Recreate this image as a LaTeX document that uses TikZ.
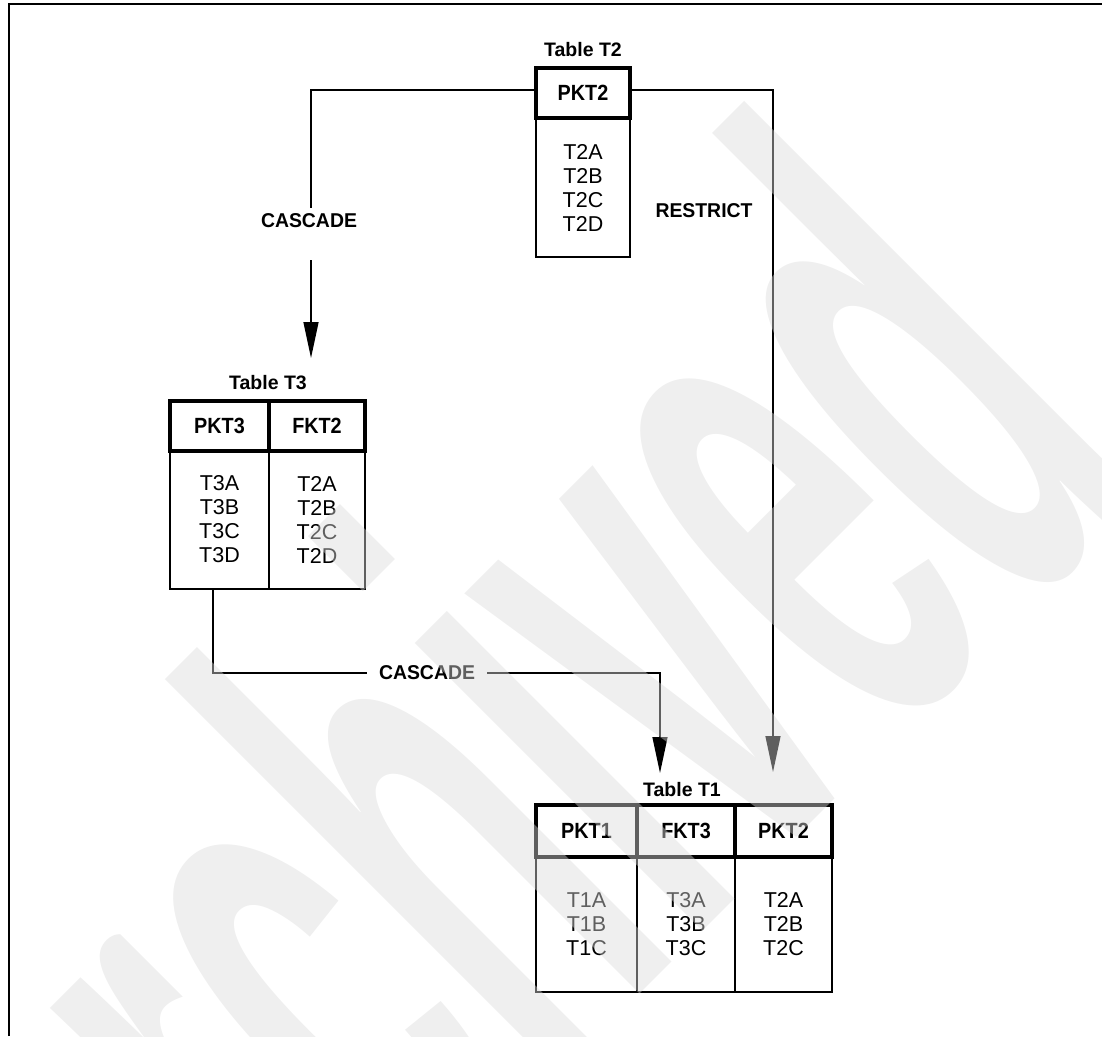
\documentclass[tikz,border=0pt]{standalone}
\usepackage{fontspec}
\setmainfont{Liberation Sans}
\newfontfamily\condb[FakeStretch=0.9]{Liberation Sans}
\newfontfamily\labb[FakeStretch=0.97]{Liberation Sans}
\newfontfamily\wmfont[FakeStretch=0.43]{Liberation Sans}
\usetikzlibrary{arrows.meta,calc}
\definecolor{wm}{HTML}{DADADA}
\begin{document}
\begin{tikzpicture}[x=1pt,y=-1pt,
  conn/.style={line width=1.4pt},
  tip/.style={-{Triangle[length=36pt,width=15pt]}},
  hdr/.style={draw,line width=4pt,minimum height=50pt,inner sep=0pt,font=\condb\bfseries\fontsize{22}{24}\selectfont},
  cell/.style={draw,line width=2.6pt,inner sep=0pt,align=center,font=\fontsize{21.5}{24}\selectfont},
  ttl/.style={font=\bfseries\fontsize{19.5}{22}\selectfont},
  lab/.style={font=\labb\bfseries\fontsize{20}{22}\selectfont,inner sep=0pt}
]
\useasboundingbox (0,0) rectangle (1102,1036);
% frame
\draw[line width=1.5pt] (9,1036) -- (9,4) -- (1102,4);

% Table T2
\node[ttl] (t2t) at (583,50) {Table T2};
\node[cell,minimum width=94pt,minimum height=139pt] (t2b) at (583,187.5) {T2A\\T2B\\T2C\\T2D};
\node[hdr,minimum width=94pt] (t2h) at (583,93) {PKT2};

% Table T3
\node[ttl] (t3t) at (268,383) {Table T3};
\node[cell,minimum width=99pt,minimum height=139pt] (t3b1) at (219.5,519.5) {T3A\\T3B\\T3C\\T3D};
\node[cell,minimum width=96pt,minimum height=139pt] (t3b2) at (317,519.5) {T2A\\T2B\\T2C\\T2D};
\node[hdr,minimum width=99pt] (t3h1) at (219.5,426) {PKT3};
\node[hdr,minimum width=96pt] (t3h2) at (317,426) {FKT2};

% Table T1
\node[ttl] (t1t) at (682,790) {Table T1};
\node[cell,minimum width=101pt,minimum height=135pt] (t1b1) at (586.5,924.5) {T1A\\T1B\\T1C};
\node[cell,minimum width=98pt,minimum height=135pt] (t1b2) at (686,924.5) {T3A\\T3B\\T3C};
\node[cell,minimum width=97pt,minimum height=135pt] (t1b3) at (783.5,924.5) {T2A\\T2B\\T2C};
\node[hdr,minimum width=101pt,minimum height=52pt] (t1h1) at (586.5,831) {PKT1};
\node[hdr,minimum width=98pt,minimum height=52pt] (t1h2) at (686,831) {FKT3};
\node[hdr,minimum width=97pt,minimum height=52pt] (t1h3) at (783.5,831) {PKT2};

% labels
\node[lab,minimum height=26pt] (c1) at (309,221) {CASCADE};
\node[lab,minimum width=120pt] (c2) at (427,673) {CASCADE};
\node[lab] (r1) at (704,211) {RESTRICT};

% connectors
\coordinate (a1) at (311,358);
\coordinate (a2) at (660,773);
\coordinate (a3) at (773,772);
\draw[conn] ($(t2h.west)+(0,-3)$) -| (c1.north -| a1);
\draw[conn,tip] ($(c1.south -| a1)+(0,26)$) -- (a1);
\draw[conn,tip] ($(t2h.east)+(0,-3)$) -| (a3);
\draw[conn] ($(t3b1.south)+(-6.5,0)$) |- (c2.west);
\draw[conn,tip] (c2.east) -| (a2);

% watermark (on top, translucent)
\node[text=wm,text opacity=0.44,inner sep=0pt,anchor=base west,rotate=45,
      font=\wmfont\bfseries\fontsize{770}{770}\selectfont] (wmk) at (192,1442) {archived};
\end{tikzpicture}
\end{document}
